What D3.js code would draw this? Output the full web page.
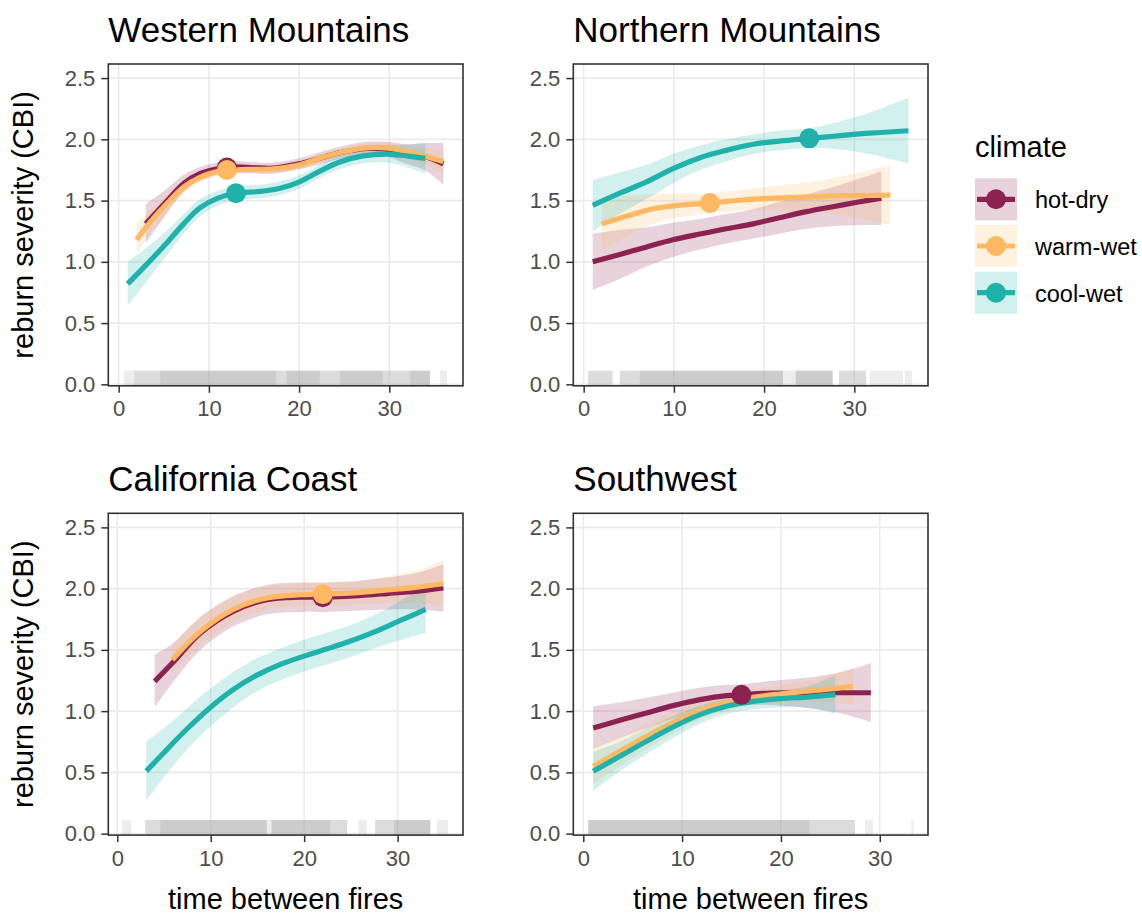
<!DOCTYPE html>
<html>
<head>
<meta charset="utf-8">
<script src="https://cdn.jsdelivr.net/npm/d3@7"></script>
<style>
  body { margin: 0; background: #fff; }
  svg { font-family: 'Liberation Sans', Arial, sans-serif; }
</style>
</head>
<body>
<div id="chart"></div>
<script>
// ---- data ----
const climates = ['hot-dry', 'warm-wet', 'cool-wet'];
const climateColors = ['#8B2252', '#FDB863', '#20B2AA'];
const regions = ['Western Mountains', 'Northern Mountains', 'California Coast', 'Southwest'];
const xTicks = [0, 10, 20, 30];
const yTicks = [0, 0.5, 1, 1.5, 2, 2.5];

// smooth fits: [time between fires, fit, lower, upper]
const wmHotDry = [[3,1.31,1.15,1.47],[5.4,1.50,1.40,1.60],[7.2,1.64,1.57,1.71],[9,1.72,1.665,1.775],[11,1.76,1.71,1.81],
  [12,1.775,1.725,1.825],[14.6,1.77,1.725,1.815],[17.2,1.765,1.72,1.81],[20,1.80,1.755,1.845],[22.3,1.845,1.795,1.895],
  [24.5,1.89,1.84,1.94],[27.5,1.925,1.87,1.98],[29.7,1.92,1.86,1.98],[31.9,1.88,1.80,1.96],[33.9,1.86,1.75,1.97],[36,1.80,1.63,1.97]];
const wmWarmWet = [[2,1.18,1.05,1.31],[3.1,1.29,1.19,1.39],[5.4,1.48,1.41,1.55],[7.2,1.61,1.56,1.66],[9,1.69,1.65,1.73],
  [11,1.74,1.70,1.78],[12,1.75,1.71,1.79],[14.6,1.755,1.72,1.79],[17.2,1.76,1.725,1.795],[20,1.79,1.755,1.825],
  [22.3,1.845,1.81,1.88],[24.5,1.89,1.855,1.925],[27.5,1.93,1.89,1.97],[29.7,1.93,1.89,1.97],[31.9,1.90,1.85,1.95],
  [34,1.86,1.79,1.93],[36,1.82,1.72,1.92]];
const wmCoolWet = [[1,0.82,0.64,1.00],[3.5,1.01,0.88,1.14],[5.4,1.16,1.06,1.26],[7.2,1.31,1.23,1.39],[9,1.44,1.37,1.51],
  [11,1.52,1.46,1.58],[13,1.56,1.50,1.62],[15.7,1.575,1.52,1.63],[17.9,1.60,1.545,1.655],[20.1,1.655,1.60,1.71],
  [22.3,1.74,1.685,1.795],[24.5,1.815,1.755,1.875],[27.1,1.865,1.805,1.925],[29.7,1.88,1.81,1.95],[31.9,1.865,1.775,1.955],
  [34,1.845,1.72,1.97]];

const nmHotDry = [[1,1.00,0.77,1.23],[4,1.06,0.86,1.26],[6.9,1.12,0.96,1.28],[9.9,1.18,1.04,1.32],[12.9,1.227,1.10,1.35],
  [15.8,1.27,1.15,1.39],[18.8,1.31,1.19,1.43],[21.7,1.36,1.23,1.49],[24.7,1.41,1.27,1.55],[27.6,1.45,1.29,1.61],
  [30.6,1.49,1.30,1.68],[33,1.52,1.30,1.74]];
const nmWarmWet = [[2,1.31,1.09,1.53],[5.1,1.38,1.22,1.54],[8,1.437,1.32,1.555],[11,1.465,1.37,1.56],[14,1.48,1.40,1.56],
  [17.6,1.505,1.42,1.59],[21.3,1.52,1.42,1.62],[25,1.53,1.41,1.65],[28.7,1.54,1.38,1.70],[34,1.545,1.30,1.79]];
const nmCoolWet = [[1,1.46,1.25,1.67],[4,1.56,1.39,1.73],[6.9,1.65,1.51,1.79],[9.9,1.76,1.64,1.88],[12.9,1.85,1.75,1.95],
  [15.8,1.91,1.82,2.00],[18.8,1.96,1.88,2.04],[21.7,1.986,1.91,2.07],[25,2.008,1.93,2.09],[28,2.027,1.92,2.14],
  [31.7,2.05,1.88,2.22],[36,2.07,1.80,2.34]];

const ccHotDry = [[4,1.243,1.03,1.46],[5.9,1.393,1.23,1.55],[8.9,1.638,1.50,1.77],[12.4,1.815,1.69,1.94],[16,1.91,1.79,2.03],
  [19.6,1.93,1.81,2.05],[22.1,1.93,1.81,2.05],[25.3,1.94,1.82,2.06],[28.9,1.96,1.83,2.09],[32.1,1.98,1.83,2.13],
  [34.9,2.006,1.81,2.20]];
const ccWarmWet = [[5.9,1.42,1.30,1.54],[8.9,1.65,1.54,1.76],[12.4,1.83,1.73,1.93],[16,1.924,1.83,2.02],[19.6,1.95,1.86,2.04],
  [22.1,1.955,1.86,2.05],[25.3,1.965,1.87,2.06],[28.9,1.99,1.88,2.10],[32.1,2.013,1.88,2.15],[34.9,2.04,1.86,2.23]];
const ccCoolWet = [[3.1,0.51,0.27,0.75],[5.3,0.686,0.49,0.88],[7.4,0.85,0.68,1.02],[9.9,1.026,0.87,1.18],[12.4,1.175,1.03,1.32],
  [14.9,1.292,1.16,1.43],[17.4,1.38,1.25,1.51],[19.9,1.447,1.32,1.58],[22.4,1.507,1.38,1.64],[24.9,1.57,1.44,1.70],
  [27.4,1.643,1.51,1.78],[30.3,1.74,1.58,1.90],[33,1.83,1.64,2.02]];

const swHotDry = [[1,0.863,0.69,1.04],[3.7,0.925,0.78,1.07],[6.4,0.985,0.86,1.11],[9.1,1.045,0.94,1.15],[11.8,1.094,1.00,1.19],
  [14.5,1.127,1.04,1.215],[16,1.133,1.05,1.22],[18.9,1.148,1.05,1.245],[22.2,1.15,1.03,1.27],[25.6,1.15,0.99,1.31],
  [29.1,1.15,0.91,1.39]];
const swWarmWet = [[1,0.55,0.40,0.70],[3.7,0.672,0.55,0.79],[6.4,0.794,0.69,0.90],[9.1,0.909,0.82,1.00],[11.8,1.004,0.93,1.08],
  [14.5,1.072,1.00,1.14],[17.2,1.113,1.05,1.18],[19.9,1.14,1.07,1.21],[22.6,1.162,1.08,1.245],[25.3,1.184,1.07,1.30],
  [27.3,1.203,1.05,1.35]];
const swCoolWet = [[1,0.51,0.35,0.67],[3.7,0.631,0.51,0.75],[6.4,0.754,0.65,0.86],[9.1,0.871,0.78,0.96],[11.8,0.971,0.90,1.045],
  [14.5,1.04,0.975,1.105],[17.2,1.08,1.015,1.145],[19.9,1.102,1.03,1.175],[22.6,1.115,1.03,1.20],[25.5,1.135,0.98,1.29]];

// highlighted points: [region, climate, time, severity]
const highlights = [
  ['Western Mountains', 'hot-dry', 12, 1.77],
  ['Western Mountains', 'warm-wet', 12, 1.75],
  ['Western Mountains', 'cool-wet', 13, 1.56],
  ['Northern Mountains', 'warm-wet', 14, 1.48],
  ['Northern Mountains', 'cool-wet', 25, 2.008],
  ['California Coast', 'hot-dry', 22, 1.93],
  ['California Coast', 'warm-wet', 22, 1.955],
  ['Southwest', 'hot-dry', 16, 1.133]
];

// rug of observed times: [from, to, density 1-3]
const wmRug = [[0.6,1.7,1],[1.7,4.6,2],[4.6,17.5,3],[17.5,18.6,2],[18.6,22.3,3],[22.3,24.5,2],[24.5,29.3,3],[29.3,32.3,2],[32.3,34.5,3],[35.6,36.4,1]];
const nmRug = [[0.5,3.2,2],[4.0,6.2,2],[6.2,22.1,3],[22.1,23.5,1],[23.5,27.6,3],[28.3,31.3,2],[31.7,35.4,1],[35.6,36.4,1]];
const ccRug = [[0.5,1.5,1],[3.0,4.6,2],[4.6,16.0,3],[16.0,16.5,1],[16.5,22.8,3],[22.8,24.6,2],[25.8,26.7,1],[27.6,29.6,2],[29.6,33.5,3],[34.2,35.4,1]];
const swRug = [[0.5,22.9,3],[22.9,27.5,2],[28.5,29.3,1],[33.2,33.4,1]];

// ---- layout ----
const svg_width = 1142, svg_height = 916;
const pw = 354.7, ph = 321.8;
const yDomain = [-0.012, 2.615];

const panels = [
  {region: regions[0], left: 108.3, top: 64,    xDomain: [-1.15, 38.17], fits: [wmHotDry, wmWarmWet, wmCoolWet], rug: wmRug, yTitle: true,  xTitle: false},
  {region: regions[1], left: 573.3, top: 64,    xDomain: [-1.15, 38.17], fits: [nmHotDry, nmWarmWet, nmCoolWet], rug: nmRug, yTitle: false, xTitle: false},
  {region: regions[2], left: 108.3, top: 513.3, xDomain: [-0.96, 37.0],  fits: [ccHotDry, ccWarmWet, ccCoolWet], rug: ccRug, yTitle: true,  xTitle: true},
  {region: regions[3], left: 573.3, top: 513.3, xDomain: [-1.01, 34.88], fits: [swHotDry, swWarmWet, swCoolWet], rug: swRug, yTitle: false, xTitle: true}
];

const color = d3.scaleOrdinal(climates, climateColors);
const rugAlpha = d3.scaleLinear([1, 3], [0.18, 0.5]);

const svg = d3.select('#chart').append('svg')
  .attr('width', svg_width).attr('height', svg_height)
  .style('background', '#fff');

panels.forEach(p => {
  const g = svg.append('g').attr('transform', `translate(${p.left},${p.top})`);
  const x = d3.scaleLinear(p.xDomain, [0, pw]);
  const y = d3.scaleLinear(yDomain, [ph, 0]);

  // grid
  g.append('g').selectAll('line').data(xTicks).join('line')
    .attr('x1', d => x(d)).attr('x2', d => x(d)).attr('y1', 0).attr('y2', ph)
    .attr('stroke', '#ebebeb').attr('stroke-width', 1.6);
  g.append('g').selectAll('line').data(yTicks).join('line')
    .attr('x1', 0).attr('x2', pw).attr('y1', d => y(d)).attr('y2', d => y(d))
    .attr('stroke', '#ebebeb').attr('stroke-width', 1.6);

  // rug
  const rugLen = ph * 0.047;
  g.append('g').selectAll('rect').data(p.rug).join('rect')
    .attr('x', d => x(d[0])).attr('width', d => x(d[1]) - x(d[0]))
    .attr('y', ph - rugLen).attr('height', rugLen)
    .attr('fill', '#999').attr('fill-opacity', d => rugAlpha(d[2]));

  const curve = d3.curveCatmullRom.alpha(0.5);
  const area = d3.area().x(d => x(d[0])).y0(d => y(d[2])).y1(d => y(d[3])).curve(curve);
  const line = d3.line().x(d => x(d[0])).y(d => y(d[1])).curve(curve);

  // ribbons, then lines
  g.append('g').selectAll('path').data(p.fits).join('path')
    .attr('d', area)
    .attr('fill', (d, i) => color(climates[i]))
    .attr('fill-opacity', 0.2);
  g.append('g').selectAll('path').data(p.fits).join('path')
    .attr('d', line)
    .attr('fill', 'none')
    .attr('stroke', (d, i) => color(climates[i]))
    .attr('stroke-width', 5.2);

  // points
  g.append('g').selectAll('circle').data(highlights.filter(h => h[0] === p.region)).join('circle')
    .attr('cx', d => x(d[2])).attr('cy', d => y(d[3])).attr('r', 10)
    .attr('fill', d => color(d[1]));

  // border
  g.append('rect').attr('width', pw).attr('height', ph)
    .attr('fill', 'none').attr('stroke', '#333').attr('stroke-width', 1.6);

  // axes
  const styleAxis = a => {
    a.select('.domain').remove();
    a.attr('font-size', 22).attr('font-family', null);
    a.selectAll('.tick line').attr('stroke', '#333').attr('stroke-width', 1.5);
    a.selectAll('.tick text').attr('fill', '#4d4d4d');
  };
  g.append('g').attr('transform', `translate(0,${ph})`)
    .call(d3.axisBottom(x).tickValues(xTicks).tickSize(7).tickPadding(8))
    .call(styleAxis);
  g.append('g')
    .call(d3.axisLeft(y).tickValues(yTicks).tickFormat(d3.format('.1f')).tickSize(7).tickPadding(6))
    .call(styleAxis);

  // titles
  g.append('text').attr('x', 0).attr('y', -22)
    .style('font-size', '35px').attr('fill', '#000').text(p.region);
  if (p.yTitle) {
    svg.append('text')
      .attr('transform', `translate(33,${p.top + ph / 2}) rotate(-90)`)
      .attr('text-anchor', 'middle').style('font-size', '29px').text('reburn severity (CBI)');
  }
  if (p.xTitle) {
    g.append('text').attr('x', pw / 2).attr('y', ph + 74)
      .attr('text-anchor', 'middle').style('font-size', '29px').text('time between fires');
  }
});

// ---- legend ----
const legend = svg.append('g').attr('transform', 'translate(975,157)');
legend.append('text').attr('x', 0).attr('y', 0).style('font-size', '29px').text('climate');
const keys = legend.selectAll('g.key').data(climates).join('g')
  .attr('class', 'key')
  .attr('transform', (d, i) => `translate(0,${21.3 + i * 46.7})`);
keys.append('rect').attr('width', 42).attr('height', 42)
  .attr('fill', d => color(d)).attr('fill-opacity', 0.2);
keys.append('line').attr('x1', 2).attr('x2', 40).attr('y1', 21).attr('y2', 21)
  .attr('stroke', d => color(d)).attr('stroke-width', 5.2);
keys.append('circle').attr('cx', 21).attr('cy', 21).attr('r', 10).attr('fill', d => color(d));
keys.append('text').attr('x', 60).attr('y', 30).style('font-size', '23.5px').text(d => d);
</script>
</body>
</html>
